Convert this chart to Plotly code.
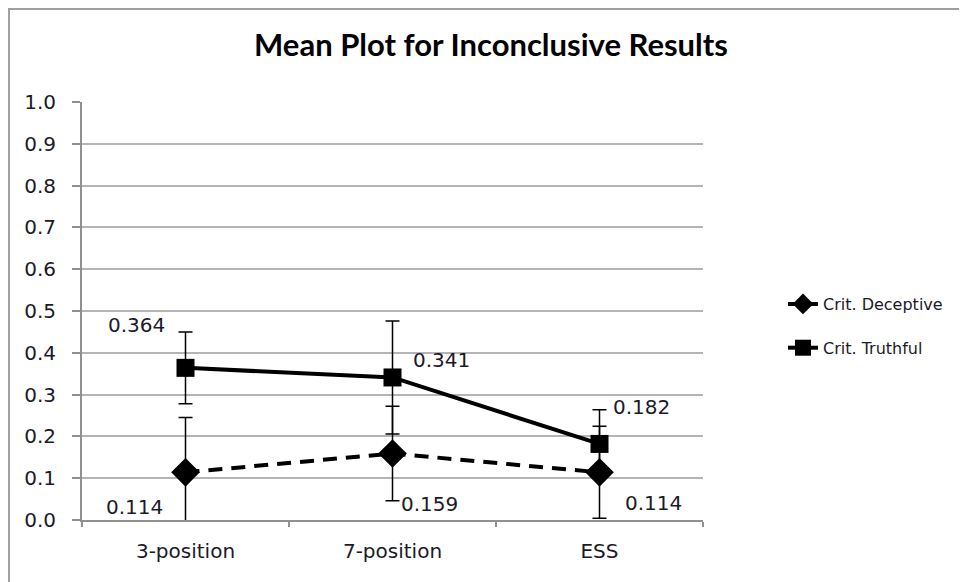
import plotly.graph_objects as go

categories = ["3-position", "7-position", "ESS"]
deceptive = [0.114, 0.159, 0.114]
deceptive_err = [0.131, 0.113, 0.110]
truthful = [0.364, 0.341, 0.182]
truthful_err = [0.086, 0.135, 0.082]
y_ticks = [0.0, 0.1, 0.2, 0.3, 0.4, 0.5, 0.6, 0.7, 0.8, 0.9, 1.0]
y_tick_labels = ["0.0", "0.1", "0.2", "0.3", "0.4", "0.5", "0.6", "0.7", "0.8", "0.9", "1.0"]
title = "Mean Plot for Inconclusive Results"

W, H = 967, 582
PW, PH = 621, 418
L, T = 74, 94
R, B = W - L - PW, H - T - PH

def px_x(p):
    return (p - L) / PW

def px_y(p):
    return (H - B - p) / PH

fig = go.Figure()
fig.add_trace(go.Scatter(
    x=categories, y=deceptive, name="Crit. Deceptive", mode="lines+markers",
    legendgroup="d",
    line=dict(color="black", width=4, dash="14px,9px"),
    marker=dict(symbol="diamond", size=22, color="black"),
    error_y=dict(type="data", array=deceptive_err, color="black", thickness=1.5, width=7),
))
fig.add_trace(go.Scatter(
    x=categories, y=truthful, name="Crit. Truthful", mode="lines+markers",
    legendgroup="t",
    line=dict(color="black", width=4),
    marker=dict(symbol="square", size=18, color="black"),
    error_y=dict(type="data", array=truthful_err, color="black", thickness=1.5, width=7),
))

label_font = dict(family="DejaVu Sans", size=20, color="#1a1a2a")
t_shifts = [(-49, 43), (49, 17), (42, 37)]
d_shifts = [(-51, -35), (37, -50), (54, -31)]
for i, c in enumerate(categories):
    fig.add_annotation(x=c, y=truthful[i], text=f"{truthful[i]:.3f}", showarrow=False,
                       xshift=t_shifts[i][0], yshift=t_shifts[i][1], font=label_font)
    fig.add_annotation(x=c, y=deceptive[i], text=f"{deceptive[i]:.3f}", showarrow=False,
                       xshift=d_shifts[i][0], yshift=d_shifts[i][1], font=label_font)

# outer chart border
fig.add_shape(type="rect", xref="paper", yref="paper",
              x0=px_x(1), x1=px_x(W + 10), y0=px_y(H + 10), y1=px_y(1),
              line=dict(color="#a0a0a0", width=2), fillcolor="rgba(0,0,0,0)", layer="below")

fig.update_layout(
    width=W, height=H,
    margin=dict(l=L, r=R, t=T, b=B),
    paper_bgcolor="white", plot_bgcolor="white",
    title=dict(text=f"<b>{title}</b>", x=483 / W, xanchor="center", y=1 - 37 / H, yanchor="middle",
               font=dict(family="Lato", size=31, color="black")),
    font=dict(family="DejaVu Sans", size=20, color="#1a1a2a"),
    showlegend=True,
    legend=dict(x=px_x(775), xanchor="left", y=px_y(318), yanchor="middle",
                font=dict(family="DejaVu Sans", size=16, color="#1a1a2a"),
                bgcolor="rgba(0,0,0,0)", traceorder="grouped", tracegroupgap=20),
    xaxis=dict(type="category", range=[-0.5, 2.5], showgrid=False, showline=True,
               linecolor="#909090", linewidth=2, ticks="outside", tickson="boundaries",
               ticklen=5, tickcolor="#909090", tickwidth=2, ticklabelstandoff=12),
    yaxis=dict(range=[0, 1.0], tickvals=y_ticks, ticktext=y_tick_labels, showgrid=True,
               gridcolor="#b4b4b4", gridwidth=2, showline=True, linecolor="#909090", linewidth=2,
               ticks="outside", ticklen=8, tickcolor="#909090", tickwidth=2, zeroline=False,
               ticklabelstandoff=12),
)

fig.write_html("out.html")
